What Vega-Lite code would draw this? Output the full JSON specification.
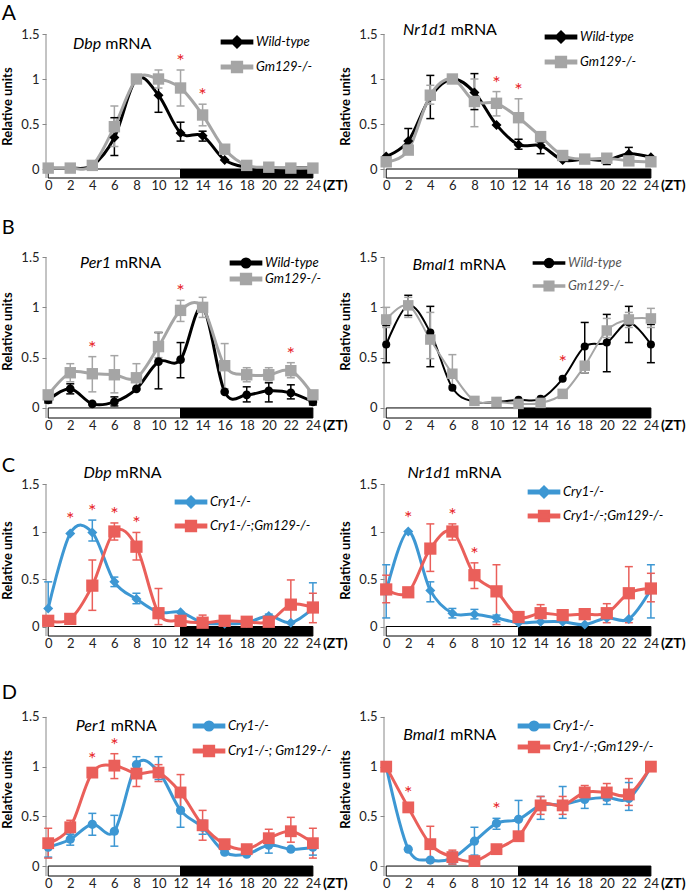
{
"$schema": "https://vega.github.io/schema/vega-lite/v6.json",
"background": "white",
"padding": {"left": 1, "top": 3, "right": 0, "bottom": 0},
"config": {
 "view": {"stroke": null},
 "font": "Lato",
 "axis": {"grid": false, "labelFont": "Lato", "labelFontSize": 13, "labelColor": "#222", "titleFont": "Lato"},
 "axisX": {"domain": false, "ticks": false, "labelPadding": 1, "labelFlush": false, "labelOverlap": false},
 "axisY": {"domain": false, "ticks": true, "tickSize": 4, "tickColor": "#888", "labelPadding": 3, "titleFontSize": 13, "titleFontWeight": "bold", "titleColor": "#000", "titlePadding": 6},
 "legend": {"orient": "none", "labelFont": "Lato", "labelFontSize": 13, "labelFontStyle": "italic", "labelColor": "#000", "symbolSize": 144, "labelOffset": 12, "padding": 0},
 "title": {"font": "Lato", "fontWeight": "normal", "color": "#000"},
 "text": {"font": "Lato"}
},
"datasets": {"pts": [
{"p":"AL","g":"Wild-type","t":0,"v":0.01},{"p":"AL","g":"Wild-type","t":2,"v":0.01},{"p":"AL","g":"Wild-type","t":4,"v":0.04},{"p":"AL","g":"Wild-type","t":6,"v":0.35,"lo":0.15,"hi":0.57},{"p":"AL","g":"Wild-type","t":8,"v":1.0},{"p":"AL","g":"Wild-type","t":10,"v":0.82,"lo":0.63,"hi":0.98},{"p":"AL","g":"Wild-type","t":12,"v":0.40,"lo":0.31,"hi":0.52},{"p":"AL","g":"Wild-type","t":14,"v":0.37,"lo":0.31,"hi":0.42},{"p":"AL","g":"Wild-type","t":16,"v":0.10},{"p":"AL","g":"Wild-type","t":18,"v":0.02},{"p":"AL","g":"Wild-type","t":20,"v":0.01},{"p":"AL","g":"Wild-type","t":22,"v":0.01},{"p":"AL","g":"Wild-type","t":24,"v":0.01},
{"p":"AL","g":"Gm129-/-","t":0,"v":0.01},{"p":"AL","g":"Gm129-/-","t":2,"v":0.01},{"p":"AL","g":"Gm129-/-","t":4,"v":0.04},{"p":"AL","g":"Gm129-/-","t":6,"v":0.47,"lo":0.25,"hi":0.70},{"p":"AL","g":"Gm129-/-","t":8,"v":1.0},{"p":"AL","g":"Gm129-/-","t":10,"v":1.0,"lo":0.90,"hi":1.10},{"p":"AL","g":"Gm129-/-","t":12,"v":0.90,"lo":0.70,"hi":1.10,"s":1},{"p":"AL","g":"Gm129-/-","t":14,"v":0.60,"lo":0.48,"hi":0.72,"s":1},{"p":"AL","g":"Gm129-/-","t":16,"v":0.22},{"p":"AL","g":"Gm129-/-","t":18,"v":0.04},{"p":"AL","g":"Gm129-/-","t":20,"v":0.02},{"p":"AL","g":"Gm129-/-","t":22,"v":0.01},{"p":"AL","g":"Gm129-/-","t":24,"v":0.01},
{"p":"AR","g":"Wild-type","t":0,"v":0.14},{"p":"AR","g":"Wild-type","t":2,"v":0.31,"lo":0.22,"hi":0.45},{"p":"AR","g":"Wild-type","t":4,"v":0.80,"lo":0.56,"hi":1.04},{"p":"AR","g":"Wild-type","t":6,"v":1.0},{"p":"AR","g":"Wild-type","t":8,"v":0.85,"lo":0.66,"hi":1.06},{"p":"AR","g":"Wild-type","t":10,"v":0.49},{"p":"AR","g":"Wild-type","t":12,"v":0.27,"lo":0.22,"hi":0.33},{"p":"AR","g":"Wild-type","t":14,"v":0.26,"lo":0.17,"hi":0.30},{"p":"AR","g":"Wild-type","t":16,"v":0.10},{"p":"AR","g":"Wild-type","t":18,"v":0.11},{"p":"AR","g":"Wild-type","t":20,"v":0.10,"lo":0.05,"hi":0.12},{"p":"AR","g":"Wild-type","t":22,"v":0.17,"lo":0.12,"hi":0.24},{"p":"AR","g":"Wild-type","t":24,"v":0.13},
{"p":"AR","g":"Gm129-/-","t":0,"v":0.08},{"p":"AR","g":"Gm129-/-","t":2,"v":0.21},{"p":"AR","g":"Gm129-/-","t":4,"v":0.82,"lo":0.72,"hi":0.93},{"p":"AR","g":"Gm129-/-","t":6,"v":1.0},{"p":"AR","g":"Gm129-/-","t":8,"v":0.75,"lo":0.47,"hi":1.0},{"p":"AR","g":"Gm129-/-","t":10,"v":0.73,"lo":0.59,"hi":0.86,"s":1},{"p":"AR","g":"Gm129-/-","t":12,"v":0.57,"lo":0.33,"hi":0.78,"s":1},{"p":"AR","g":"Gm129-/-","t":14,"v":0.36},{"p":"AR","g":"Gm129-/-","t":16,"v":0.15},{"p":"AR","g":"Gm129-/-","t":18,"v":0.11},{"p":"AR","g":"Gm129-/-","t":20,"v":0.12},{"p":"AR","g":"Gm129-/-","t":22,"v":0.09},{"p":"AR","g":"Gm129-/-","t":24,"v":0.08},
{"p":"BL","g":"Wild-type","t":0,"v":0.08,"lo":0.05,"hi":0.11},{"p":"BL","g":"Wild-type","t":2,"v":0.19,"lo":0.14,"hi":0.24},{"p":"BL","g":"Wild-type","t":4,"v":0.04},{"p":"BL","g":"Wild-type","t":6,"v":0.06,"lo":0.02,"hi":0.11},{"p":"BL","g":"Wild-type","t":8,"v":0.19},{"p":"BL","g":"Wild-type","t":10,"v":0.46,"lo":0.19,"hi":0.75},{"p":"BL","g":"Wild-type","t":12,"v":0.48,"lo":0.30,"hi":0.65},{"p":"BL","g":"Wild-type","t":14,"v":1.0},{"p":"BL","g":"Wild-type","t":16,"v":0.16},{"p":"BL","g":"Wild-type","t":18,"v":0.13,"lo":0.06,"hi":0.21},{"p":"BL","g":"Wild-type","t":20,"v":0.17,"lo":0.06,"hi":0.25},{"p":"BL","g":"Wild-type","t":22,"v":0.15,"lo":0.09,"hi":0.23},{"p":"BL","g":"Wild-type","t":24,"v":0.06,"lo":0.03,"hi":0.09},
{"p":"BL","g":"Gm129-/-","t":0,"v":0.13},{"p":"BL","g":"Gm129-/-","t":2,"v":0.35,"lo":0.26,"hi":0.44},{"p":"BL","g":"Gm129-/-","t":4,"v":0.34,"lo":0.16,"hi":0.51,"s":1},{"p":"BL","g":"Gm129-/-","t":6,"v":0.33,"lo":0.15,"hi":0.52},{"p":"BL","g":"Gm129-/-","t":8,"v":0.30,"lo":0.18,"hi":0.44},{"p":"BL","g":"Gm129-/-","t":10,"v":0.61,"lo":0.50,"hi":0.75},{"p":"BL","g":"Gm129-/-","t":12,"v":0.97,"lo":0.86,"hi":1.07,"s":1},{"p":"BL","g":"Gm129-/-","t":14,"v":1.0,"lo":0.90,"hi":1.10},{"p":"BL","g":"Gm129-/-","t":16,"v":0.42,"lo":0.19,"hi":0.64},{"p":"BL","g":"Gm129-/-","t":18,"v":0.33,"lo":0.26,"hi":0.40},{"p":"BL","g":"Gm129-/-","t":20,"v":0.33,"lo":0.27,"hi":0.40},{"p":"BL","g":"Gm129-/-","t":22,"v":0.37,"lo":0.30,"hi":0.45,"s":1},{"p":"BL","g":"Gm129-/-","t":24,"v":0.13},
{"p":"BR","g":"Wild-type","t":0,"v":0.63,"lo":0.45,"hi":0.82},{"p":"BR","g":"Wild-type","t":2,"v":1.02,"lo":0.92,"hi":1.12},{"p":"BR","g":"Wild-type","t":4,"v":0.75,"lo":0.41,"hi":1.01},{"p":"BR","g":"Wild-type","t":6,"v":0.20},{"p":"BR","g":"Wild-type","t":8,"v":0.06},{"p":"BR","g":"Wild-type","t":10,"v":0.06},{"p":"BR","g":"Wild-type","t":12,"v":0.08},{"p":"BR","g":"Wild-type","t":14,"v":0.09},{"p":"BR","g":"Wild-type","t":16,"v":0.29,"s":1},{"p":"BR","g":"Wild-type","t":18,"v":0.61,"lo":0.35,"hi":0.85},{"p":"BR","g":"Wild-type","t":20,"v":0.65,"lo":0.36,"hi":0.93},{"p":"BR","g":"Wild-type","t":22,"v":0.85,"lo":0.65,"hi":1.01},{"p":"BR","g":"Wild-type","t":24,"v":0.63,"lo":0.45,"hi":0.83},
{"p":"BR","g":"Gm129-/-","t":0,"v":0.88,"lo":0.80,"hi":1.0},{"p":"BR","g":"Gm129-/-","t":2,"v":1.02,"lo":0.90,"hi":1.10},{"p":"BR","g":"Gm129-/-","t":4,"v":0.68,"lo":0.49,"hi":0.95},{"p":"BR","g":"Gm129-/-","t":6,"v":0.34,"lo":0.22,"hi":0.53},{"p":"BR","g":"Gm129-/-","t":8,"v":0.07},{"p":"BR","g":"Gm129-/-","t":10,"v":0.06},{"p":"BR","g":"Gm129-/-","t":12,"v":0.04},{"p":"BR","g":"Gm129-/-","t":14,"v":0.05},{"p":"BR","g":"Gm129-/-","t":16,"v":0.14},{"p":"BR","g":"Gm129-/-","t":18,"v":0.42,"lo":0.35,"hi":0.45},{"p":"BR","g":"Gm129-/-","t":20,"v":0.77,"lo":0.70,"hi":0.89},{"p":"BR","g":"Gm129-/-","t":22,"v":0.88,"lo":0.80,"hi":0.95},{"p":"BR","g":"Gm129-/-","t":24,"v":0.89,"lo":0.80,"hi":0.99},
{"p":"CL","g":"Cry1-/-","t":0,"v":0.19,"lo":0.19,"hi":0.47},{"p":"CL","g":"Cry1-/-","t":2,"v":0.98,"s":1},{"p":"CL","g":"Cry1-/-","t":4,"v":0.99,"lo":0.90,"hi":1.12,"s":1},{"p":"CL","g":"Cry1-/-","t":6,"v":0.47,"lo":0.42,"hi":0.52},{"p":"CL","g":"Cry1-/-","t":8,"v":0.29,"lo":0.24,"hi":0.35},{"p":"CL","g":"Cry1-/-","t":10,"v":0.15},{"p":"CL","g":"Cry1-/-","t":12,"v":0.15},{"p":"CL","g":"Cry1-/-","t":14,"v":0.04},{"p":"CL","g":"Cry1-/-","t":16,"v":0.03},{"p":"CL","g":"Cry1-/-","t":18,"v":0.04},{"p":"CL","g":"Cry1-/-","t":20,"v":0.11,"lo":0.08,"hi":0.13},{"p":"CL","g":"Cry1-/-","t":22,"v":0.04},{"p":"CL","g":"Cry1-/-","t":24,"v":0.19,"lo":0.19,"hi":0.46},
{"p":"CL","g":"Cry1-/-;Gm129-/-","t":0,"v":0.06},{"p":"CL","g":"Cry1-/-;Gm129-/-","t":2,"v":0.08},{"p":"CL","g":"Cry1-/-;Gm129-/-","t":4,"v":0.43,"lo":0.17,"hi":0.70},{"p":"CL","g":"Cry1-/-;Gm129-/-","t":6,"v":1.0,"lo":0.91,"hi":1.09,"s":1},{"p":"CL","g":"Cry1-/-;Gm129-/-","t":8,"v":0.84,"lo":0.70,"hi":0.99,"s":1},{"p":"CL","g":"Cry1-/-;Gm129-/-","t":10,"v":0.14,"lo":0.02,"hi":0.40},{"p":"CL","g":"Cry1-/-;Gm129-/-","t":12,"v":0.06},{"p":"CL","g":"Cry1-/-;Gm129-/-","t":14,"v":0.04,"lo":0.01,"hi":0.12},{"p":"CL","g":"Cry1-/-;Gm129-/-","t":16,"v":0.06},{"p":"CL","g":"Cry1-/-;Gm129-/-","t":18,"v":0.05},{"p":"CL","g":"Cry1-/-;Gm129-/-","t":20,"v":0.05},{"p":"CL","g":"Cry1-/-;Gm129-/-","t":22,"v":0.23,"lo":0.03,"hi":0.49},{"p":"CL","g":"Cry1-/-;Gm129-/-","t":24,"v":0.20,"lo":0.04,"hi":0.35},
{"p":"CR","g":"Cry1-/-","t":0,"v":0.37,"lo":0.09,"hi":0.65},{"p":"CR","g":"Cry1-/-","t":2,"v":1.0,"s":1},{"p":"CR","g":"Cry1-/-","t":4,"v":0.38,"lo":0.26,"hi":0.47},{"p":"CR","g":"Cry1-/-","t":6,"v":0.14,"lo":0.09,"hi":0.19},{"p":"CR","g":"Cry1-/-","t":8,"v":0.13,"lo":0.08,"hi":0.18},{"p":"CR","g":"Cry1-/-","t":10,"v":0.09,"lo":0.05,"hi":0.12},{"p":"CR","g":"Cry1-/-","t":12,"v":0.04},{"p":"CR","g":"Cry1-/-","t":14,"v":0.05},{"p":"CR","g":"Cry1-/-","t":16,"v":0.05},{"p":"CR","g":"Cry1-/-","t":18,"v":0.02},{"p":"CR","g":"Cry1-/-","t":20,"v":0.09},{"p":"CR","g":"Cry1-/-","t":22,"v":0.08},{"p":"CR","g":"Cry1-/-","t":24,"v":0.39,"lo":0.09,"hi":0.65},
{"p":"CR","g":"Cry1-/-;Gm129-/-","t":0,"v":0.39,"lo":0.25,"hi":0.54},{"p":"CR","g":"Cry1-/-;Gm129-/-","t":2,"v":0.36},{"p":"CR","g":"Cry1-/-;Gm129-/-","t":4,"v":0.82,"lo":0.58,"hi":1.08},{"p":"CR","g":"Cry1-/-;Gm129-/-","t":6,"v":1.0,"lo":0.91,"hi":1.08,"s":1},{"p":"CR","g":"Cry1-/-;Gm129-/-","t":8,"v":0.54,"lo":0.40,"hi":0.67,"s":1},{"p":"CR","g":"Cry1-/-;Gm129-/-","t":10,"v":0.37,"lo":0.02,"hi":0.65},{"p":"CR","g":"Cry1-/-;Gm129-/-","t":12,"v":0.10},{"p":"CR","g":"Cry1-/-;Gm129-/-","t":14,"v":0.14,"lo":0.05,"hi":0.23},{"p":"CR","g":"Cry1-/-;Gm129-/-","t":16,"v":0.12},{"p":"CR","g":"Cry1-/-;Gm129-/-","t":18,"v":0.13},{"p":"CR","g":"Cry1-/-;Gm129-/-","t":20,"v":0.14,"lo":0.04,"hi":0.24},{"p":"CR","g":"Cry1-/-;Gm129-/-","t":22,"v":0.35,"lo":0.04,"hi":0.63},{"p":"CR","g":"Cry1-/-;Gm129-/-","t":24,"v":0.40,"lo":0.26,"hi":0.56},
{"p":"DL","g":"Cry1-/-","t":0,"v":0.19,"lo":0.09,"hi":0.27},{"p":"DL","g":"Cry1-/-","t":2,"v":0.27,"lo":0.21,"hi":0.32},{"p":"DL","g":"Cry1-/-","t":4,"v":0.42,"lo":0.31,"hi":0.53},{"p":"DL","g":"Cry1-/-","t":6,"v":0.35,"lo":0.20,"hi":0.51},{"p":"DL","g":"Cry1-/-","t":8,"v":1.02,"lo":0.92,"hi":1.10},{"p":"DL","g":"Cry1-/-","t":10,"v":0.95,"lo":0.87,"hi":1.10},{"p":"DL","g":"Cry1-/-","t":12,"v":0.56,"lo":0.39,"hi":0.70},{"p":"DL","g":"Cry1-/-","t":14,"v":0.39,"lo":0.32,"hi":0.46},{"p":"DL","g":"Cry1-/-","t":16,"v":0.14},{"p":"DL","g":"Cry1-/-","t":18,"v":0.12},{"p":"DL","g":"Cry1-/-","t":20,"v":0.21,"lo":0.13,"hi":0.26},{"p":"DL","g":"Cry1-/-","t":22,"v":0.17},{"p":"DL","g":"Cry1-/-","t":24,"v":0.19,"lo":0.11,"hi":0.24},
{"p":"DL","g":"Cry1-/-; Gm129-/-","t":0,"v":0.23,"lo":0.08,"hi":0.38},{"p":"DL","g":"Cry1-/-; Gm129-/-","t":2,"v":0.39,"lo":0.32,"hi":0.46},{"p":"DL","g":"Cry1-/-; Gm129-/-","t":4,"v":0.94,"s":1},{"p":"DL","g":"Cry1-/-; Gm129-/-","t":6,"v":1.01,"lo":0.88,"hi":1.13,"s":1},{"p":"DL","g":"Cry1-/-; Gm129-/-","t":8,"v":0.93,"lo":0.80,"hi":1.02},{"p":"DL","g":"Cry1-/-; Gm129-/-","t":10,"v":0.94,"lo":0.85,"hi":1.02},{"p":"DL","g":"Cry1-/-; Gm129-/-","t":12,"v":0.74,"lo":0.56,"hi":0.92},{"p":"DL","g":"Cry1-/-; Gm129-/-","t":14,"v":0.41,"lo":0.26,"hi":0.56},{"p":"DL","g":"Cry1-/-; Gm129-/-","t":16,"v":0.22},{"p":"DL","g":"Cry1-/-; Gm129-/-","t":18,"v":0.17},{"p":"DL","g":"Cry1-/-; Gm129-/-","t":20,"v":0.28,"lo":0.22,"hi":0.37},{"p":"DL","g":"Cry1-/-; Gm129-/-","t":22,"v":0.35,"lo":0.24,"hi":0.49},{"p":"DL","g":"Cry1-/-; Gm129-/-","t":24,"v":0.23,"lo":0.08,"hi":0.38},
{"p":"DR","g":"Cry1-/-","t":0,"v":1.0},{"p":"DR","g":"Cry1-/-","t":2,"v":0.17},{"p":"DR","g":"Cry1-/-","t":4,"v":0.06},{"p":"DR","g":"Cry1-/-","t":6,"v":0.08,"lo":0.02,"hi":0.14},{"p":"DR","g":"Cry1-/-","t":8,"v":0.25,"lo":0.11,"hi":0.39},{"p":"DR","g":"Cry1-/-","t":10,"v":0.43,"lo":0.37,"hi":0.48,"s":1},{"p":"DR","g":"Cry1-/-","t":12,"v":0.47,"lo":0.27,"hi":0.66},{"p":"DR","g":"Cry1-/-","t":14,"v":0.61,"lo":0.47,"hi":0.70},{"p":"DR","g":"Cry1-/-","t":16,"v":0.62,"lo":0.48,"hi":0.80},{"p":"DR","g":"Cry1-/-","t":18,"v":0.67,"lo":0.58,"hi":0.74},{"p":"DR","g":"Cry1-/-","t":20,"v":0.69,"lo":0.62,"hi":0.74},{"p":"DR","g":"Cry1-/-","t":22,"v":0.68,"lo":0.56,"hi":0.84},{"p":"DR","g":"Cry1-/-","t":24,"v":1.0},
{"p":"DR","g":"Cry1-/-;Gm129-/-","t":0,"v":1.0},{"p":"DR","g":"Cry1-/-;Gm129-/-","t":2,"v":0.59,"s":1},{"p":"DR","g":"Cry1-/-;Gm129-/-","t":4,"v":0.22,"lo":0.04,"hi":0.40},{"p":"DR","g":"Cry1-/-;Gm129-/-","t":6,"v":0.09,"lo":0.02,"hi":0.16},{"p":"DR","g":"Cry1-/-;Gm129-/-","t":8,"v":0.05},{"p":"DR","g":"Cry1-/-;Gm129-/-","t":10,"v":0.17},{"p":"DR","g":"Cry1-/-;Gm129-/-","t":12,"v":0.30},{"p":"DR","g":"Cry1-/-;Gm129-/-","t":14,"v":0.61,"lo":0.52,"hi":0.70},{"p":"DR","g":"Cry1-/-;Gm129-/-","t":16,"v":0.61,"lo":0.52,"hi":0.70},{"p":"DR","g":"Cry1-/-;Gm129-/-","t":18,"v":0.74,"lo":0.67,"hi":0.81},{"p":"DR","g":"Cry1-/-;Gm129-/-","t":20,"v":0.74,"lo":0.66,"hi":0.83},{"p":"DR","g":"Cry1-/-;Gm129-/-","t":22,"v":0.72,"lo":0.61,"hi":0.88},{"p":"DR","g":"Cry1-/-;Gm129-/-","t":24,"v":1.0}
]},
"columns": 2,
"spacing": {"row": 66, "column": 70},
"bounds": "flush",
"resolve": {"scale": {"color": "independent", "shape": "independent"}},
"concat": [
{"width": 268, "height": 144,
 "title": {"text": "A", "anchor": "start", "frame": "bounds", "fontSize": 21, "offset": 4},
 "layer": [
  {"data": {"values": [{"a":0,"b":12,"ph":"L"},{"a":12,"b":24,"ph":"D"}]}, "mark": {"type":"rect","stroke":"#000","strokeWidth":1},
   "encoding": {"x": {"field":"a","type":"quantitative","scale":{"domain":[-0.2,24.1],"nice":false,"zero":false},"axis":{"values":[0,2,4,6,8,10,12,14,16,18,20,22,24],"tickCount":13,"title":null,"labelOverlap":false}},
    "x2": {"field":"b"},
    "y": {"datum":0,"type":"quantitative","scale":{"domain":[-0.1,1.5],"nice":false,"zero":false},"axis":{"values":[0,0.5,1,1.5],"labelExpr":"'' + datum.value","title":"Relative units"}},
    "y2": {"datum":-0.1},
    "fill": {"condition":{"test":"datum.ph === 'D'","value":"#000"},"value":"#fff"}}},
  {"data": {"values": [{}]}, "layer": [
   {"mark": {"type":"text","text":"Dbp","fontStyle":"italic","fontSize":16,"align":"right","baseline":"middle"}, "encoding": {"x":{"datum":4.8},"y":{"datum":1.39}}},
   {"mark": {"type":"text","text":"mRNA","fontSize":16,"align":"left","baseline":"middle","dx":4}, "encoding": {"x":{"datum":4.8},"y":{"datum":1.39}}},
   {"mark": {"type":"text","text":"(ZT)","fontSize":14,"fontWeight":"bold","align":"left","baseline":"top","dx":9,"dy":1}, "encoding": {"x":{"datum":24.1},"y":{"datum":-0.1}}},
   {"mark": {"type":"rule","color":"#888","strokeWidth":1}, "encoding": {"x":{"datum":-0.2},"y":{"datum":-0.1},"y2":{"datum":1.5}}}
  ]},
  {"data": {"name":"pts"}, "transform": [{"filter":"datum.p === 'AL'"}], "layer": [
   {"transform":[{"filter":"false"}], "mark": {"type":"point","filled":true,"opacity":1,"size":144}, "encoding": {"x":{"field":"t","type":"quantitative"},"y":{"field":"v","type":"quantitative"},
     "color":{"field":"g","type":"nominal","scale":{"domain":["Wild-type","Gm129-/-"],"range":["#000000","#a5a5a5"]},"legend":{"legendX":184,"legendY":1,"rowPadding":7,"title":null}},
     "shape":{"field":"g","type":"nominal","scale":{"domain":["Wild-type","Gm129-/-"],"range":["M-2.6,-0.28H2.6V0.28H-2.6Z M-1,0L0,-1L1,0L0,1Z","M-2.6,-0.28H2.6V0.28H-2.6Z M-0.9,-0.9H0.9V0.9H-0.9Z"]},"legend":{"legendX":184,"legendY":1,"rowPadding":7,"title":null}}}},
   {"mark": {"type":"line","interpolate":"cardinal","strokeWidth":3}, "encoding": {"x":{"field":"t","type":"quantitative"},"y":{"field":"v","type":"quantitative"},"color":{"field":"g","type":"nominal"}}},
   {"transform":[{"filter":"isValid(datum.lo)"}], "mark": {"type":"rule","strokeWidth":1.5}, "encoding": {"x":{"field":"t","type":"quantitative"},"y":{"field":"lo","type":"quantitative"},"y2":{"field":"hi"},"color":{"field":"g","type":"nominal"}}},
   {"transform":[{"filter":"isValid(datum.lo)"}], "mark": {"type":"tick","orient":"horizontal","size":8,"thickness":1.5,"opacity":1}, "encoding": {"x":{"field":"t","type":"quantitative"},"y":{"field":"lo","type":"quantitative"},"color":{"field":"g","type":"nominal"}}},
   {"transform":[{"filter":"isValid(datum.lo)"}], "mark": {"type":"tick","orient":"horizontal","size":8,"thickness":1.5,"opacity":1}, "encoding": {"x":{"field":"t","type":"quantitative"},"y":{"field":"hi","type":"quantitative"},"color":{"field":"g","type":"nominal"}}},
   {"transform":[{"filter":"datum.g === 'Wild-type'"}], "mark": {"type":"point","filled":true,"opacity":1,"shape":"diamond","size":100}, "encoding": {"x":{"field":"t","type":"quantitative"},"y":{"field":"v","type":"quantitative"},"color":{"field":"g","type":"nominal"}}},
   {"transform":[{"filter":"datum.g === 'Gm129-/-'"}], "mark": {"type":"point","filled":true,"opacity":1,"shape":"square","size":130}, "encoding": {"x":{"field":"t","type":"quantitative"},"y":{"field":"v","type":"quantitative"},"color":{"field":"g","type":"nominal"}}},
   {"transform":[{"filter":"datum.s === 1 && isValid(datum.hi)"}], "mark": {"type":"text","text":"*","color":"#e8262b","fontSize":20,"baseline":"alphabetic","dy":-2}, "encoding": {"x":{"field":"t","type":"quantitative"},"y":{"field":"hi","type":"quantitative"}}},
   {"transform":[{"filter":"datum.s === 1 && !isValid(datum.hi)"}], "mark": {"type":"text","text":"*","color":"#e8262b","fontSize":20,"baseline":"alphabetic","dy":-7}, "encoding": {"x":{"field":"t","type":"quantitative"},"y":{"field":"v","type":"quantitative"}}}
  ]}
 ]},
{"width": 268, "height": 144,
 "layer": [
  {"data": {"values": [{"a":0,"b":12,"ph":"L"},{"a":12,"b":24,"ph":"D"}]}, "mark": {"type":"rect","stroke":"#000","strokeWidth":1},
   "encoding": {"x": {"field":"a","type":"quantitative","scale":{"domain":[-0.2,24.1],"nice":false,"zero":false},"axis":{"values":[0,2,4,6,8,10,12,14,16,18,20,22,24],"tickCount":13,"title":null,"labelOverlap":false}},
    "x2": {"field":"b"},
    "y": {"datum":0,"type":"quantitative","scale":{"domain":[-0.1,1.5],"nice":false,"zero":false},"axis":{"values":[0,0.5,1,1.5],"labelExpr":"'' + datum.value","title":"Relative units"}},
    "y2": {"datum":-0.1},
    "fill": {"condition":{"test":"datum.ph === 'D'","value":"#000"},"value":"#fff"}}},
  {"data": {"values": [{}]}, "layer": [
   {"mark": {"type":"text","text":"Nr1d1","fontStyle":"italic","fontSize":16,"align":"right","baseline":"middle"}, "encoding": {"x":{"datum":5.5},"y":{"datum":1.55}}},
   {"mark": {"type":"text","text":"mRNA","fontSize":16,"align":"left","baseline":"middle","dx":4}, "encoding": {"x":{"datum":5.5},"y":{"datum":1.55}}},
   {"mark": {"type":"text","text":"(ZT)","fontSize":14,"fontWeight":"bold","align":"left","baseline":"top","dx":9,"dy":1}, "encoding": {"x":{"datum":24.1},"y":{"datum":-0.1}}},
   {"mark": {"type":"rule","color":"#888","strokeWidth":1}, "encoding": {"x":{"datum":-0.2},"y":{"datum":-0.1},"y2":{"datum":1.5}}}
  ]},
  {"data": {"name":"pts"}, "transform": [{"filter":"datum.p === 'AR'"}], "layer": [
   {"transform":[{"filter":"false"}], "mark": {"type":"point","filled":true,"opacity":1,"size":144}, "encoding": {"x":{"field":"t","type":"quantitative"},"y":{"field":"v","type":"quantitative"},
     "color":{"field":"g","type":"nominal","scale":{"domain":["Wild-type","Gm129-/-"],"range":["#000000","#a5a5a5"]},"legend":{"legendX":170,"legendY":-4,"rowPadding":7,"title":null}},
     "shape":{"field":"g","type":"nominal","scale":{"domain":["Wild-type","Gm129-/-"],"range":["M-2.6,-0.28H2.6V0.28H-2.6Z M-1,0L0,-1L1,0L0,1Z","M-2.6,-0.28H2.6V0.28H-2.6Z M-0.9,-0.9H0.9V0.9H-0.9Z"]},"legend":{"legendX":170,"legendY":-4,"rowPadding":7,"title":null}}}},
   {"mark": {"type":"line","interpolate":"cardinal","strokeWidth":3}, "encoding": {"x":{"field":"t","type":"quantitative"},"y":{"field":"v","type":"quantitative"},"color":{"field":"g","type":"nominal"}}},
   {"transform":[{"filter":"isValid(datum.lo)"}], "mark": {"type":"rule","strokeWidth":1.5}, "encoding": {"x":{"field":"t","type":"quantitative"},"y":{"field":"lo","type":"quantitative"},"y2":{"field":"hi"},"color":{"field":"g","type":"nominal"}}},
   {"transform":[{"filter":"isValid(datum.lo)"}], "mark": {"type":"tick","orient":"horizontal","size":8,"thickness":1.5,"opacity":1}, "encoding": {"x":{"field":"t","type":"quantitative"},"y":{"field":"lo","type":"quantitative"},"color":{"field":"g","type":"nominal"}}},
   {"transform":[{"filter":"isValid(datum.lo)"}], "mark": {"type":"tick","orient":"horizontal","size":8,"thickness":1.5,"opacity":1}, "encoding": {"x":{"field":"t","type":"quantitative"},"y":{"field":"hi","type":"quantitative"},"color":{"field":"g","type":"nominal"}}},
   {"transform":[{"filter":"datum.g === 'Wild-type'"}], "mark": {"type":"point","filled":true,"opacity":1,"shape":"diamond","size":100}, "encoding": {"x":{"field":"t","type":"quantitative"},"y":{"field":"v","type":"quantitative"},"color":{"field":"g","type":"nominal"}}},
   {"transform":[{"filter":"datum.g === 'Gm129-/-'"}], "mark": {"type":"point","filled":true,"opacity":1,"shape":"square","size":130}, "encoding": {"x":{"field":"t","type":"quantitative"},"y":{"field":"v","type":"quantitative"},"color":{"field":"g","type":"nominal"}}},
   {"transform":[{"filter":"datum.s === 1 && isValid(datum.hi)"}], "mark": {"type":"text","text":"*","color":"#e8262b","fontSize":20,"baseline":"alphabetic","dy":-2}, "encoding": {"x":{"field":"t","type":"quantitative"},"y":{"field":"hi","type":"quantitative"}}},
   {"transform":[{"filter":"datum.s === 1 && !isValid(datum.hi)"}], "mark": {"type":"text","text":"*","color":"#e8262b","fontSize":20,"baseline":"alphabetic","dy":-7}, "encoding": {"x":{"field":"t","type":"quantitative"},"y":{"field":"v","type":"quantitative"}}}
  ]}
 ]},
{"width": 268, "height": 174,
 "title": {"text": "B", "anchor": "start", "frame": "bounds", "fontSize": 20, "offset": 6},
 "layer": [
  {"data": {"values": [{"a":0,"b":12,"ph":"L"},{"a":12,"b":24,"ph":"D"}]}, "mark": {"type":"rect","stroke":"#000","strokeWidth":1},
   "encoding": {"x": {"field":"a","type":"quantitative","scale":{"domain":[-0.2,24.1],"nice":false,"zero":false},"axis":{"values":[0,2,4,6,8,10,12,14,16,18,20,22,24],"tickCount":13,"title":null,"labelOverlap":false}},
    "x2": {"field":"b"},
    "y": {"datum":0,"type":"quantitative","scale":{"domain":[-0.1,1.63],"nice":false,"zero":false},"axis":{"values":[0,0.5,1,1.5],"labelExpr":"'' + datum.value","title":"Relative units"}},
    "y2": {"datum":-0.1},
    "fill": {"condition":{"test":"datum.ph === 'D'","value":"#000"},"value":"#fff"}}},
  {"data": {"values": [{}]}, "layer": [
   {"mark": {"type":"text","text":"Per1","fontStyle":"italic","fontSize":16,"align":"right","baseline":"middle"}, "encoding": {"x":{"datum":5.7},"y":{"datum":1.44}}},
   {"mark": {"type":"text","text":"mRNA","fontSize":16,"align":"left","baseline":"middle","dx":4}, "encoding": {"x":{"datum":5.7},"y":{"datum":1.44}}},
   {"mark": {"type":"text","text":"(ZT)","fontSize":14,"fontWeight":"bold","align":"left","baseline":"top","dx":9,"dy":1}, "encoding": {"x":{"datum":24.1},"y":{"datum":-0.1}}},
   {"mark": {"type":"rule","color":"#888","strokeWidth":1}, "encoding": {"x":{"datum":-0.2},"y":{"datum":-0.1},"y2":{"datum":1.5}}}
  ]},
  {"data": {"name":"pts"}, "transform": [{"filter":"datum.p === 'BL'"}], "layer": [
   {"transform":[{"filter":"false"}], "mark": {"type":"point","filled":true,"opacity":1,"size":144}, "encoding": {"x":{"field":"t","type":"quantitative"},"y":{"field":"v","type":"quantitative"},
     "color":{"field":"g","type":"nominal","scale":{"domain":["Wild-type","Gm129-/-"],"range":["#000000","#a5a5a5"]},"legend":{"legendX":193,"legendY":12,"rowPadding":-1,"title":null}},
     "shape":{"field":"g","type":"nominal","scale":{"domain":["Wild-type","Gm129-/-"],"range":["M-2.6,-0.28H2.6V0.28H-2.6Z M0.8,0A0.8,0.8,0,1,1,-0.8,0A0.8,0.8,0,1,1,0.8,0Z","M-2.6,-0.28H2.6V0.28H-2.6Z M-0.9,-0.9H0.9V0.9H-0.9Z"]},"legend":{"legendX":193,"legendY":12,"rowPadding":-1,"title":null}}}},
   {"mark": {"type":"line","interpolate":"cardinal","strokeWidth":3}, "encoding": {"x":{"field":"t","type":"quantitative"},"y":{"field":"v","type":"quantitative"},"color":{"field":"g","type":"nominal"}}},
   {"transform":[{"filter":"isValid(datum.lo)"}], "mark": {"type":"rule","strokeWidth":1.5}, "encoding": {"x":{"field":"t","type":"quantitative"},"y":{"field":"lo","type":"quantitative"},"y2":{"field":"hi"},"color":{"field":"g","type":"nominal"}}},
   {"transform":[{"filter":"isValid(datum.lo)"}], "mark": {"type":"tick","orient":"horizontal","size":8,"thickness":1.5,"opacity":1}, "encoding": {"x":{"field":"t","type":"quantitative"},"y":{"field":"lo","type":"quantitative"},"color":{"field":"g","type":"nominal"}}},
   {"transform":[{"filter":"isValid(datum.lo)"}], "mark": {"type":"tick","orient":"horizontal","size":8,"thickness":1.5,"opacity":1}, "encoding": {"x":{"field":"t","type":"quantitative"},"y":{"field":"hi","type":"quantitative"},"color":{"field":"g","type":"nominal"}}},
   {"transform":[{"filter":"datum.g === 'Wild-type'"}], "mark": {"type":"point","filled":true,"opacity":1,"shape":"circle","size":75}, "encoding": {"x":{"field":"t","type":"quantitative"},"y":{"field":"v","type":"quantitative"},"color":{"field":"g","type":"nominal"}}},
   {"transform":[{"filter":"datum.g === 'Gm129-/-'"}], "mark": {"type":"point","filled":true,"opacity":1,"shape":"square","size":130}, "encoding": {"x":{"field":"t","type":"quantitative"},"y":{"field":"v","type":"quantitative"},"color":{"field":"g","type":"nominal"}}},
   {"transform":[{"filter":"datum.s === 1 && isValid(datum.hi)"}], "mark": {"type":"text","text":"*","color":"#e8262b","fontSize":20,"baseline":"alphabetic","dy":-2}, "encoding": {"x":{"field":"t","type":"quantitative"},"y":{"field":"hi","type":"quantitative"}}},
   {"transform":[{"filter":"datum.s === 1 && !isValid(datum.hi)"}], "mark": {"type":"text","text":"*","color":"#e8262b","fontSize":20,"baseline":"alphabetic","dy":-7}, "encoding": {"x":{"field":"t","type":"quantitative"},"y":{"field":"v","type":"quantitative"}}}
  ]}
 ]},
{"width": 268, "height": 174,
 "layer": [
  {"data": {"values": [{"a":0,"b":12,"ph":"L"},{"a":12,"b":24,"ph":"D"}]}, "mark": {"type":"rect","stroke":"#000","strokeWidth":1},
   "encoding": {"x": {"field":"a","type":"quantitative","scale":{"domain":[-0.2,24.1],"nice":false,"zero":false},"axis":{"values":[0,2,4,6,8,10,12,14,16,18,20,22,24],"tickCount":13,"title":null,"labelOverlap":false}},
    "x2": {"field":"b"},
    "y": {"datum":0,"type":"quantitative","scale":{"domain":[-0.1,1.63],"nice":false,"zero":false},"axis":{"values":[0,0.5,1,1.5],"labelExpr":"'' + datum.value","title":"Relative units"}},
    "y2": {"datum":-0.1},
    "fill": {"condition":{"test":"datum.ph === 'D'","value":"#000"},"value":"#fff"}}},
  {"data": {"values": [{}]}, "layer": [
   {"mark": {"type":"text","text":"Bmal1","fontStyle":"italic","fontSize":16,"align":"right","baseline":"middle"}, "encoding": {"x":{"datum":6.3},"y":{"datum":1.42}}},
   {"mark": {"type":"text","text":"mRNA","fontSize":16,"align":"left","baseline":"middle","dx":4}, "encoding": {"x":{"datum":6.3},"y":{"datum":1.42}}},
   {"mark": {"type":"text","text":"(ZT)","fontSize":14,"fontWeight":"bold","align":"left","baseline":"top","dx":9,"dy":1}, "encoding": {"x":{"datum":24.1},"y":{"datum":-0.1}}},
   {"mark": {"type":"rule","color":"#888","strokeWidth":1}, "encoding": {"x":{"datum":-0.2},"y":{"datum":-0.1},"y2":{"datum":1.5}}}
  ]},
  {"data": {"name":"pts"}, "transform": [{"filter":"datum.p === 'BR'"}], "layer": [
   {"transform":[{"filter":"false"}], "mark": {"type":"point","filled":true,"opacity":1,"size":144}, "encoding": {"x":{"field":"t","type":"quantitative"},"y":{"field":"v","type":"quantitative"},
     "color":{"field":"g","type":"nominal","scale":{"domain":["Wild-type","Gm129-/-"],"range":["#000000","#a5a5a5"]},"legend":{"legendX":158,"legendY":12,"rowPadding":7,"title":null,"labelColor":"#555"}},
     "shape":{"field":"g","type":"nominal","scale":{"domain":["Wild-type","Gm129-/-"],"range":["M-2.6,-0.18H2.6V0.18H-2.6Z M0.75,0A0.75,0.75,0,1,1,-0.75,0A0.75,0.75,0,1,1,0.75,0Z","M-2.6,-0.18H2.6V0.18H-2.6Z M-0.8,-0.8H0.8V0.8H-0.8Z"]},"legend":{"legendX":158,"legendY":12,"rowPadding":7,"title":null,"labelColor":"#555"}}}},
   {"mark": {"type":"line","interpolate":"cardinal","strokeWidth":2}, "encoding": {"x":{"field":"t","type":"quantitative"},"y":{"field":"v","type":"quantitative"},"color":{"field":"g","type":"nominal"}}},
   {"transform":[{"filter":"isValid(datum.lo)"}], "mark": {"type":"rule","strokeWidth":1.5}, "encoding": {"x":{"field":"t","type":"quantitative"},"y":{"field":"lo","type":"quantitative"},"y2":{"field":"hi"},"color":{"field":"g","type":"nominal"}}},
   {"transform":[{"filter":"isValid(datum.lo)"}], "mark": {"type":"tick","orient":"horizontal","size":8,"thickness":1.5,"opacity":1}, "encoding": {"x":{"field":"t","type":"quantitative"},"y":{"field":"lo","type":"quantitative"},"color":{"field":"g","type":"nominal"}}},
   {"transform":[{"filter":"isValid(datum.lo)"}], "mark": {"type":"tick","orient":"horizontal","size":8,"thickness":1.5,"opacity":1}, "encoding": {"x":{"field":"t","type":"quantitative"},"y":{"field":"hi","type":"quantitative"},"color":{"field":"g","type":"nominal"}}},
   {"transform":[{"filter":"datum.g === 'Wild-type'"}], "mark": {"type":"point","filled":true,"opacity":1,"shape":"circle","size":65}, "encoding": {"x":{"field":"t","type":"quantitative"},"y":{"field":"v","type":"quantitative"},"color":{"field":"g","type":"nominal"}}},
   {"transform":[{"filter":"datum.g === 'Gm129-/-'"}], "mark": {"type":"point","filled":true,"opacity":1,"shape":"square","size":110}, "encoding": {"x":{"field":"t","type":"quantitative"},"y":{"field":"v","type":"quantitative"},"color":{"field":"g","type":"nominal"}}},
   {"transform":[{"filter":"datum.s === 1 && isValid(datum.hi)"}], "mark": {"type":"text","text":"*","color":"#e8262b","fontSize":20,"baseline":"alphabetic","dy":-2}, "encoding": {"x":{"field":"t","type":"quantitative"},"y":{"field":"hi","type":"quantitative"}}},
   {"transform":[{"filter":"datum.s === 1 && !isValid(datum.hi)"}], "mark": {"type":"text","text":"*","color":"#e8262b","fontSize":20,"baseline":"alphabetic","dy":-10}, "encoding": {"x":{"field":"t","type":"quantitative"},"y":{"field":"v","type":"quantitative"}}}
  ]}
 ]},
{"width": 268, "height": 152,
 "title": {"text": "C", "anchor": "start", "frame": "bounds", "fontSize": 20, "offset": -11},
 "layer": [
  {"data": {"values": [{"a":0,"b":12,"ph":"L"},{"a":12,"b":24,"ph":"D"}]}, "mark": {"type":"rect","stroke":"#000","strokeWidth":1},
   "encoding": {"x": {"field":"a","type":"quantitative","scale":{"domain":[-0.2,24.1],"nice":false,"zero":false},"axis":{"values":[0,2,4,6,8,10,12,14,16,18,20,22,24],"tickCount":13,"title":null,"labelOverlap":false}},
    "x2": {"field":"b"},
    "y": {"datum":0,"type":"quantitative","scale":{"domain":[-0.1,1.5],"nice":false,"zero":false},"axis":{"values":[0,0.5,1,1.5],"labelExpr":"'' + datum.value","title":"Relative units"}},
    "y2": {"datum":-0.1},
    "fill": {"condition":{"test":"datum.ph === 'D'","value":"#000"},"value":"#fff"}}},
  {"data": {"values": [{}]}, "layer": [
   {"mark": {"type":"text","text":"Dbp","fontStyle":"italic","fontSize":16,"align":"right","baseline":"middle"}, "encoding": {"x":{"datum":5.75},"y":{"datum":1.62}}},
   {"mark": {"type":"text","text":"mRNA","fontSize":16,"align":"left","baseline":"middle","dx":4}, "encoding": {"x":{"datum":5.75},"y":{"datum":1.62}}},
   {"mark": {"type":"text","text":"(ZT)","fontSize":14,"fontWeight":"bold","align":"left","baseline":"top","dx":9,"dy":1}, "encoding": {"x":{"datum":24.1},"y":{"datum":-0.1}}},
   {"mark": {"type":"rule","color":"#888","strokeWidth":1}, "encoding": {"x":{"datum":-0.2},"y":{"datum":-0.1},"y2":{"datum":1.5}}}
  ]},
  {"data": {"name":"pts"}, "transform": [{"filter":"datum.p === 'CL'"}], "layer": [
   {"transform":[{"filter":"false"}], "mark": {"type":"point","filled":true,"opacity":1,"size":144}, "encoding": {"x":{"field":"t","type":"quantitative"},"y":{"field":"v","type":"quantitative"},
     "color":{"field":"g","type":"nominal","scale":{"domain":["Cry1-/-","Cry1-/-;Gm129-/-"],"range":["#3d97d3","#ea5f5a"]},"legend":{"legendX":138,"legendY":11,"rowPadding":6,"title":null}},
     "shape":{"field":"g","type":"nominal","scale":{"domain":["Cry1-/-","Cry1-/-;Gm129-/-"],"range":["M-2.6,-0.28H2.6V0.28H-2.6Z M-1,0L0,-1L1,0L0,1Z","M-2.6,-0.28H2.6V0.28H-2.6Z M-0.9,-0.9H0.9V0.9H-0.9Z"]},"legend":{"legendX":138,"legendY":11,"rowPadding":6,"title":null}}}},
   {"mark": {"type":"line","interpolate":"cardinal","strokeWidth":3}, "encoding": {"x":{"field":"t","type":"quantitative"},"y":{"field":"v","type":"quantitative"},"color":{"field":"g","type":"nominal"}}},
   {"transform":[{"filter":"isValid(datum.lo)"}], "mark": {"type":"rule","strokeWidth":1.5}, "encoding": {"x":{"field":"t","type":"quantitative"},"y":{"field":"lo","type":"quantitative"},"y2":{"field":"hi"},"color":{"field":"g","type":"nominal"}}},
   {"transform":[{"filter":"isValid(datum.lo)"}], "mark": {"type":"tick","orient":"horizontal","size":8,"thickness":1.5,"opacity":1}, "encoding": {"x":{"field":"t","type":"quantitative"},"y":{"field":"lo","type":"quantitative"},"color":{"field":"g","type":"nominal"}}},
   {"transform":[{"filter":"isValid(datum.lo)"}], "mark": {"type":"tick","orient":"horizontal","size":8,"thickness":1.5,"opacity":1}, "encoding": {"x":{"field":"t","type":"quantitative"},"y":{"field":"hi","type":"quantitative"},"color":{"field":"g","type":"nominal"}}},
   {"transform":[{"filter":"datum.g === 'Cry1-/-'"}], "mark": {"type":"point","filled":true,"opacity":1,"shape":"diamond","size":100}, "encoding": {"x":{"field":"t","type":"quantitative"},"y":{"field":"v","type":"quantitative"},"color":{"field":"g","type":"nominal"}}},
   {"transform":[{"filter":"datum.g === 'Cry1-/-;Gm129-/-'"}], "mark": {"type":"point","filled":true,"opacity":1,"shape":"square","size":150}, "encoding": {"x":{"field":"t","type":"quantitative"},"y":{"field":"v","type":"quantitative"},"color":{"field":"g","type":"nominal"}}},
   {"transform":[{"filter":"datum.s === 1 && isValid(datum.hi)"}], "mark": {"type":"text","text":"*","color":"#e8262b","fontSize":20,"baseline":"alphabetic","dy":-2}, "encoding": {"x":{"field":"t","type":"quantitative"},"y":{"field":"hi","type":"quantitative"}}},
   {"transform":[{"filter":"datum.s === 1 && !isValid(datum.hi)"}], "mark": {"type":"text","text":"*","color":"#e8262b","fontSize":20,"baseline":"alphabetic","dy":-7}, "encoding": {"x":{"field":"t","type":"quantitative"},"y":{"field":"v","type":"quantitative"}}}
  ]}
 ]},
{"width": 268, "height": 152,
 "layer": [
  {"data": {"values": [{"a":0,"b":12,"ph":"L"},{"a":12,"b":24,"ph":"D"}]}, "mark": {"type":"rect","stroke":"#000","strokeWidth":1},
   "encoding": {"x": {"field":"a","type":"quantitative","scale":{"domain":[-0.2,24.1],"nice":false,"zero":false},"axis":{"values":[0,2,4,6,8,10,12,14,16,18,20,22,24],"tickCount":13,"title":null,"labelOverlap":false}},
    "x2": {"field":"b"},
    "y": {"datum":0,"type":"quantitative","scale":{"domain":[-0.1,1.5],"nice":false,"zero":false},"axis":{"values":[0,0.5,1,1.5],"labelExpr":"'' + datum.value","title":"Relative units"}},
    "y2": {"datum":-0.1},
    "fill": {"condition":{"test":"datum.ph === 'D'","value":"#000"},"value":"#fff"}}},
  {"data": {"values": [{}]}, "layer": [
   {"mark": {"type":"text","text":"Nr1d1","fontStyle":"italic","fontSize":16,"align":"right","baseline":"middle"}, "encoding": {"x":{"datum":5.9},"y":{"datum":1.62}}},
   {"mark": {"type":"text","text":"mRNA","fontSize":16,"align":"left","baseline":"middle","dx":4}, "encoding": {"x":{"datum":5.9},"y":{"datum":1.62}}},
   {"mark": {"type":"text","text":"(ZT)","fontSize":14,"fontWeight":"bold","align":"left","baseline":"top","dx":9,"dy":1}, "encoding": {"x":{"datum":24.1},"y":{"datum":-0.1}}},
   {"mark": {"type":"rule","color":"#888","strokeWidth":1}, "encoding": {"x":{"datum":-0.2},"y":{"datum":-0.1},"y2":{"datum":1.5}}}
  ]},
  {"data": {"name":"pts"}, "transform": [{"filter":"datum.p === 'CR'"}], "layer": [
   {"transform":[{"filter":"false"}], "mark": {"type":"point","filled":true,"opacity":1,"size":144}, "encoding": {"x":{"field":"t","type":"quantitative"},"y":{"field":"v","type":"quantitative"},
     "color":{"field":"g","type":"nominal","scale":{"domain":["Cry1-/-","Cry1-/-;Gm129-/-"],"range":["#3d97d3","#ea5f5a"]},"legend":{"legendX":153,"legendY":1,"rowPadding":6,"title":null}},
     "shape":{"field":"g","type":"nominal","scale":{"domain":["Cry1-/-","Cry1-/-;Gm129-/-"],"range":["M-2.6,-0.28H2.6V0.28H-2.6Z M-1,0L0,-1L1,0L0,1Z","M-2.6,-0.28H2.6V0.28H-2.6Z M-0.9,-0.9H0.9V0.9H-0.9Z"]},"legend":{"legendX":153,"legendY":1,"rowPadding":6,"title":null}}}},
   {"mark": {"type":"line","interpolate":"cardinal","strokeWidth":3}, "encoding": {"x":{"field":"t","type":"quantitative"},"y":{"field":"v","type":"quantitative"},"color":{"field":"g","type":"nominal"}}},
   {"transform":[{"filter":"isValid(datum.lo)"}], "mark": {"type":"rule","strokeWidth":1.5}, "encoding": {"x":{"field":"t","type":"quantitative"},"y":{"field":"lo","type":"quantitative"},"y2":{"field":"hi"},"color":{"field":"g","type":"nominal"}}},
   {"transform":[{"filter":"isValid(datum.lo)"}], "mark": {"type":"tick","orient":"horizontal","size":8,"thickness":1.5,"opacity":1}, "encoding": {"x":{"field":"t","type":"quantitative"},"y":{"field":"lo","type":"quantitative"},"color":{"field":"g","type":"nominal"}}},
   {"transform":[{"filter":"isValid(datum.lo)"}], "mark": {"type":"tick","orient":"horizontal","size":8,"thickness":1.5,"opacity":1}, "encoding": {"x":{"field":"t","type":"quantitative"},"y":{"field":"hi","type":"quantitative"},"color":{"field":"g","type":"nominal"}}},
   {"transform":[{"filter":"datum.g === 'Cry1-/-'"}], "mark": {"type":"point","filled":true,"opacity":1,"shape":"diamond","size":100}, "encoding": {"x":{"field":"t","type":"quantitative"},"y":{"field":"v","type":"quantitative"},"color":{"field":"g","type":"nominal"}}},
   {"transform":[{"filter":"datum.g === 'Cry1-/-;Gm129-/-'"}], "mark": {"type":"point","filled":true,"opacity":1,"shape":"square","size":150}, "encoding": {"x":{"field":"t","type":"quantitative"},"y":{"field":"v","type":"quantitative"},"color":{"field":"g","type":"nominal"}}},
   {"transform":[{"filter":"datum.s === 1 && isValid(datum.hi)"}], "mark": {"type":"text","text":"*","color":"#e8262b","fontSize":20,"baseline":"alphabetic","dy":-2}, "encoding": {"x":{"field":"t","type":"quantitative"},"y":{"field":"hi","type":"quantitative"}}},
   {"transform":[{"filter":"datum.s === 1 && !isValid(datum.hi)"}], "mark": {"type":"text","text":"*","color":"#e8262b","fontSize":20,"baseline":"alphabetic","dy":-7}, "encoding": {"x":{"field":"t","type":"quantitative"},"y":{"field":"v","type":"quantitative"}}}
  ]}
 ]},
{"width": 268, "height": 174,
 "title": {"text": "D", "anchor": "start", "frame": "bounds", "fontSize": 20, "offset": -1},
 "layer": [
  {"data": {"values": [{"a":0,"b":12,"ph":"L"},{"a":12,"b":24,"ph":"D"}]}, "mark": {"type":"rect","stroke":"#000","strokeWidth":1},
   "encoding": {"x": {"field":"a","type":"quantitative","scale":{"domain":[-0.2,24.1],"nice":false,"zero":false},"axis":{"values":[0,2,4,6,8,10,12,14,16,18,20,22,24],"tickCount":13,"title":null,"labelOverlap":false}},
    "x2": {"field":"b"},
    "y": {"datum":0,"type":"quantitative","scale":{"domain":[-0.1,1.65],"nice":false,"zero":false},"axis":{"values":[0,0.5,1,1.5],"labelExpr":"'' + datum.value","title":"Relative units"}},
    "y2": {"datum":-0.1},
    "fill": {"condition":{"test":"datum.ph === 'D'","value":"#000"},"value":"#fff"}}},
  {"data": {"values": [{}]}, "layer": [
   {"mark": {"type":"text","text":"Per1","fontStyle":"italic","fontSize":16,"align":"right","baseline":"middle"}, "encoding": {"x":{"datum":5.3},"y":{"datum":1.41}}},
   {"mark": {"type":"text","text":"mRNA","fontSize":16,"align":"left","baseline":"middle","dx":4}, "encoding": {"x":{"datum":5.3},"y":{"datum":1.41}}},
   {"mark": {"type":"text","text":"(ZT)","fontSize":14,"fontWeight":"bold","align":"left","baseline":"top","dx":9,"dy":1}, "encoding": {"x":{"datum":24.1},"y":{"datum":-0.1}}},
   {"mark": {"type":"rule","color":"#888","strokeWidth":1}, "encoding": {"x":{"datum":-0.2},"y":{"datum":-0.1},"y2":{"datum":1.5}}}
  ]},
  {"data": {"name":"pts"}, "transform": [{"filter":"datum.p === 'DL'"}], "layer": [
   {"transform":[{"filter":"false"}], "mark": {"type":"point","filled":true,"opacity":1,"size":144}, "encoding": {"x":{"field":"t","type":"quantitative"},"y":{"field":"v","type":"quantitative"},
     "color":{"field":"g","type":"nominal","scale":{"domain":["Cry1-/-","Cry1-/-; Gm129-/-"],"range":["#3d97d3","#ea5f5a"]},"legend":{"legendX":156,"legendY":17,"rowPadding":8,"title":null}},
     "shape":{"field":"g","type":"nominal","scale":{"domain":["Cry1-/-","Cry1-/-; Gm129-/-"],"range":["M-2.6,-0.28H2.6V0.28H-2.6Z M0.8,0A0.8,0.8,0,1,1,-0.8,0A0.8,0.8,0,1,1,0.8,0Z","M-2.6,-0.28H2.6V0.28H-2.6Z M-0.9,-0.9H0.9V0.9H-0.9Z"]},"legend":{"legendX":156,"legendY":17,"rowPadding":8,"title":null}}}},
   {"mark": {"type":"line","interpolate":"cardinal","strokeWidth":3}, "encoding": {"x":{"field":"t","type":"quantitative"},"y":{"field":"v","type":"quantitative"},"color":{"field":"g","type":"nominal"}}},
   {"transform":[{"filter":"isValid(datum.lo)"}], "mark": {"type":"rule","strokeWidth":1.5}, "encoding": {"x":{"field":"t","type":"quantitative"},"y":{"field":"lo","type":"quantitative"},"y2":{"field":"hi"},"color":{"field":"g","type":"nominal"}}},
   {"transform":[{"filter":"isValid(datum.lo)"}], "mark": {"type":"tick","orient":"horizontal","size":8,"thickness":1.5,"opacity":1}, "encoding": {"x":{"field":"t","type":"quantitative"},"y":{"field":"lo","type":"quantitative"},"color":{"field":"g","type":"nominal"}}},
   {"transform":[{"filter":"isValid(datum.lo)"}], "mark": {"type":"tick","orient":"horizontal","size":8,"thickness":1.5,"opacity":1}, "encoding": {"x":{"field":"t","type":"quantitative"},"y":{"field":"hi","type":"quantitative"},"color":{"field":"g","type":"nominal"}}},
   {"transform":[{"filter":"datum.g === 'Cry1-/-'"}], "mark": {"type":"point","filled":true,"opacity":1,"shape":"circle","size":85}, "encoding": {"x":{"field":"t","type":"quantitative"},"y":{"field":"v","type":"quantitative"},"color":{"field":"g","type":"nominal"}}},
   {"transform":[{"filter":"datum.g === 'Cry1-/-; Gm129-/-'"}], "mark": {"type":"point","filled":true,"opacity":1,"shape":"square","size":140}, "encoding": {"x":{"field":"t","type":"quantitative"},"y":{"field":"v","type":"quantitative"},"color":{"field":"g","type":"nominal"}}},
   {"transform":[{"filter":"datum.s === 1 && isValid(datum.hi)"}], "mark": {"type":"text","text":"*","color":"#e8262b","fontSize":20,"baseline":"alphabetic","dy":-2}, "encoding": {"x":{"field":"t","type":"quantitative"},"y":{"field":"hi","type":"quantitative"}}},
   {"transform":[{"filter":"datum.s === 1 && !isValid(datum.hi)"}], "mark": {"type":"text","text":"*","color":"#e8262b","fontSize":20,"baseline":"alphabetic","dy":-7}, "encoding": {"x":{"field":"t","type":"quantitative"},"y":{"field":"v","type":"quantitative"}}}
  ]}
 ]},
{"width": 268, "height": 174,
 "layer": [
  {"data": {"values": [{"a":0,"b":12,"ph":"L"},{"a":12,"b":24,"ph":"D"}]}, "mark": {"type":"rect","stroke":"#000","strokeWidth":1},
   "encoding": {"x": {"field":"a","type":"quantitative","scale":{"domain":[-0.2,24.1],"nice":false,"zero":false},"axis":{"values":[0,2,4,6,8,10,12,14,16,18,20,22,24],"tickCount":13,"title":null,"labelOverlap":false}},
    "x2": {"field":"b"},
    "y": {"datum":0,"type":"quantitative","scale":{"domain":[-0.1,1.65],"nice":false,"zero":false},"axis":{"values":[0,0.5,1,1.5],"labelExpr":"'' + datum.value","title":"Relative units"}},
    "y2": {"datum":-0.1},
    "fill": {"condition":{"test":"datum.ph === 'D'","value":"#000"},"value":"#fff"}}},
  {"data": {"values": [{}]}, "layer": [
   {"mark": {"type":"text","text":"Bmal1","fontStyle":"italic","fontSize":16,"align":"right","baseline":"middle"}, "encoding": {"x":{"datum":5.45},"y":{"datum":1.32}}},
   {"mark": {"type":"text","text":"mRNA","fontSize":16,"align":"left","baseline":"middle","dx":4}, "encoding": {"x":{"datum":5.45},"y":{"datum":1.32}}},
   {"mark": {"type":"text","text":"(ZT)","fontSize":14,"fontWeight":"bold","align":"left","baseline":"top","dx":9,"dy":1}, "encoding": {"x":{"datum":24.1},"y":{"datum":-0.1}}},
   {"mark": {"type":"rule","color":"#888","strokeWidth":1}, "encoding": {"x":{"datum":-0.2},"y":{"datum":-0.1},"y2":{"datum":1.5}}}
  ]},
  {"data": {"name":"pts"}, "transform": [{"filter":"datum.p === 'DR'"}], "layer": [
   {"transform":[{"filter":"false"}], "mark": {"type":"point","filled":true,"opacity":1,"size":144}, "encoding": {"x":{"field":"t","type":"quantitative"},"y":{"field":"v","type":"quantitative"},
     "color":{"field":"g","type":"nominal","scale":{"domain":["Cry1-/-","Cry1-/-;Gm129-/-"],"range":["#3d97d3","#ea5f5a"]},"legend":{"legendX":143,"legendY":17,"rowPadding":4,"title":null}},
     "shape":{"field":"g","type":"nominal","scale":{"domain":["Cry1-/-","Cry1-/-;Gm129-/-"],"range":["M-2.6,-0.28H2.6V0.28H-2.6Z M0.8,0A0.8,0.8,0,1,1,-0.8,0A0.8,0.8,0,1,1,0.8,0Z","M-2.6,-0.28H2.6V0.28H-2.6Z M-0.9,-0.9H0.9V0.9H-0.9Z"]},"legend":{"legendX":143,"legendY":17,"rowPadding":4,"title":null}}}},
   {"mark": {"type":"line","interpolate":"cardinal","strokeWidth":3}, "encoding": {"x":{"field":"t","type":"quantitative"},"y":{"field":"v","type":"quantitative"},"color":{"field":"g","type":"nominal"}}},
   {"transform":[{"filter":"isValid(datum.lo)"}], "mark": {"type":"rule","strokeWidth":1.5}, "encoding": {"x":{"field":"t","type":"quantitative"},"y":{"field":"lo","type":"quantitative"},"y2":{"field":"hi"},"color":{"field":"g","type":"nominal"}}},
   {"transform":[{"filter":"isValid(datum.lo)"}], "mark": {"type":"tick","orient":"horizontal","size":8,"thickness":1.5,"opacity":1}, "encoding": {"x":{"field":"t","type":"quantitative"},"y":{"field":"lo","type":"quantitative"},"color":{"field":"g","type":"nominal"}}},
   {"transform":[{"filter":"isValid(datum.lo)"}], "mark": {"type":"tick","orient":"horizontal","size":8,"thickness":1.5,"opacity":1}, "encoding": {"x":{"field":"t","type":"quantitative"},"y":{"field":"hi","type":"quantitative"},"color":{"field":"g","type":"nominal"}}},
   {"transform":[{"filter":"datum.g === 'Cry1-/-'"}], "mark": {"type":"point","filled":true,"opacity":1,"shape":"circle","size":85}, "encoding": {"x":{"field":"t","type":"quantitative"},"y":{"field":"v","type":"quantitative"},"color":{"field":"g","type":"nominal"}}},
   {"transform":[{"filter":"datum.g === 'Cry1-/-;Gm129-/-'"}], "mark": {"type":"point","filled":true,"opacity":1,"shape":"square","size":140}, "encoding": {"x":{"field":"t","type":"quantitative"},"y":{"field":"v","type":"quantitative"},"color":{"field":"g","type":"nominal"}}},
   {"transform":[{"filter":"datum.s === 1 && isValid(datum.hi)"}], "mark": {"type":"text","text":"*","color":"#e8262b","fontSize":20,"baseline":"alphabetic","dy":-2}, "encoding": {"x":{"field":"t","type":"quantitative"},"y":{"field":"hi","type":"quantitative"}}},
   {"transform":[{"filter":"datum.s === 1 && !isValid(datum.hi)"}], "mark": {"type":"text","text":"*","color":"#e8262b","fontSize":20,"baseline":"alphabetic","dy":-7}, "encoding": {"x":{"field":"t","type":"quantitative"},"y":{"field":"v","type":"quantitative"}}}
  ]}
 ]}
]
}
